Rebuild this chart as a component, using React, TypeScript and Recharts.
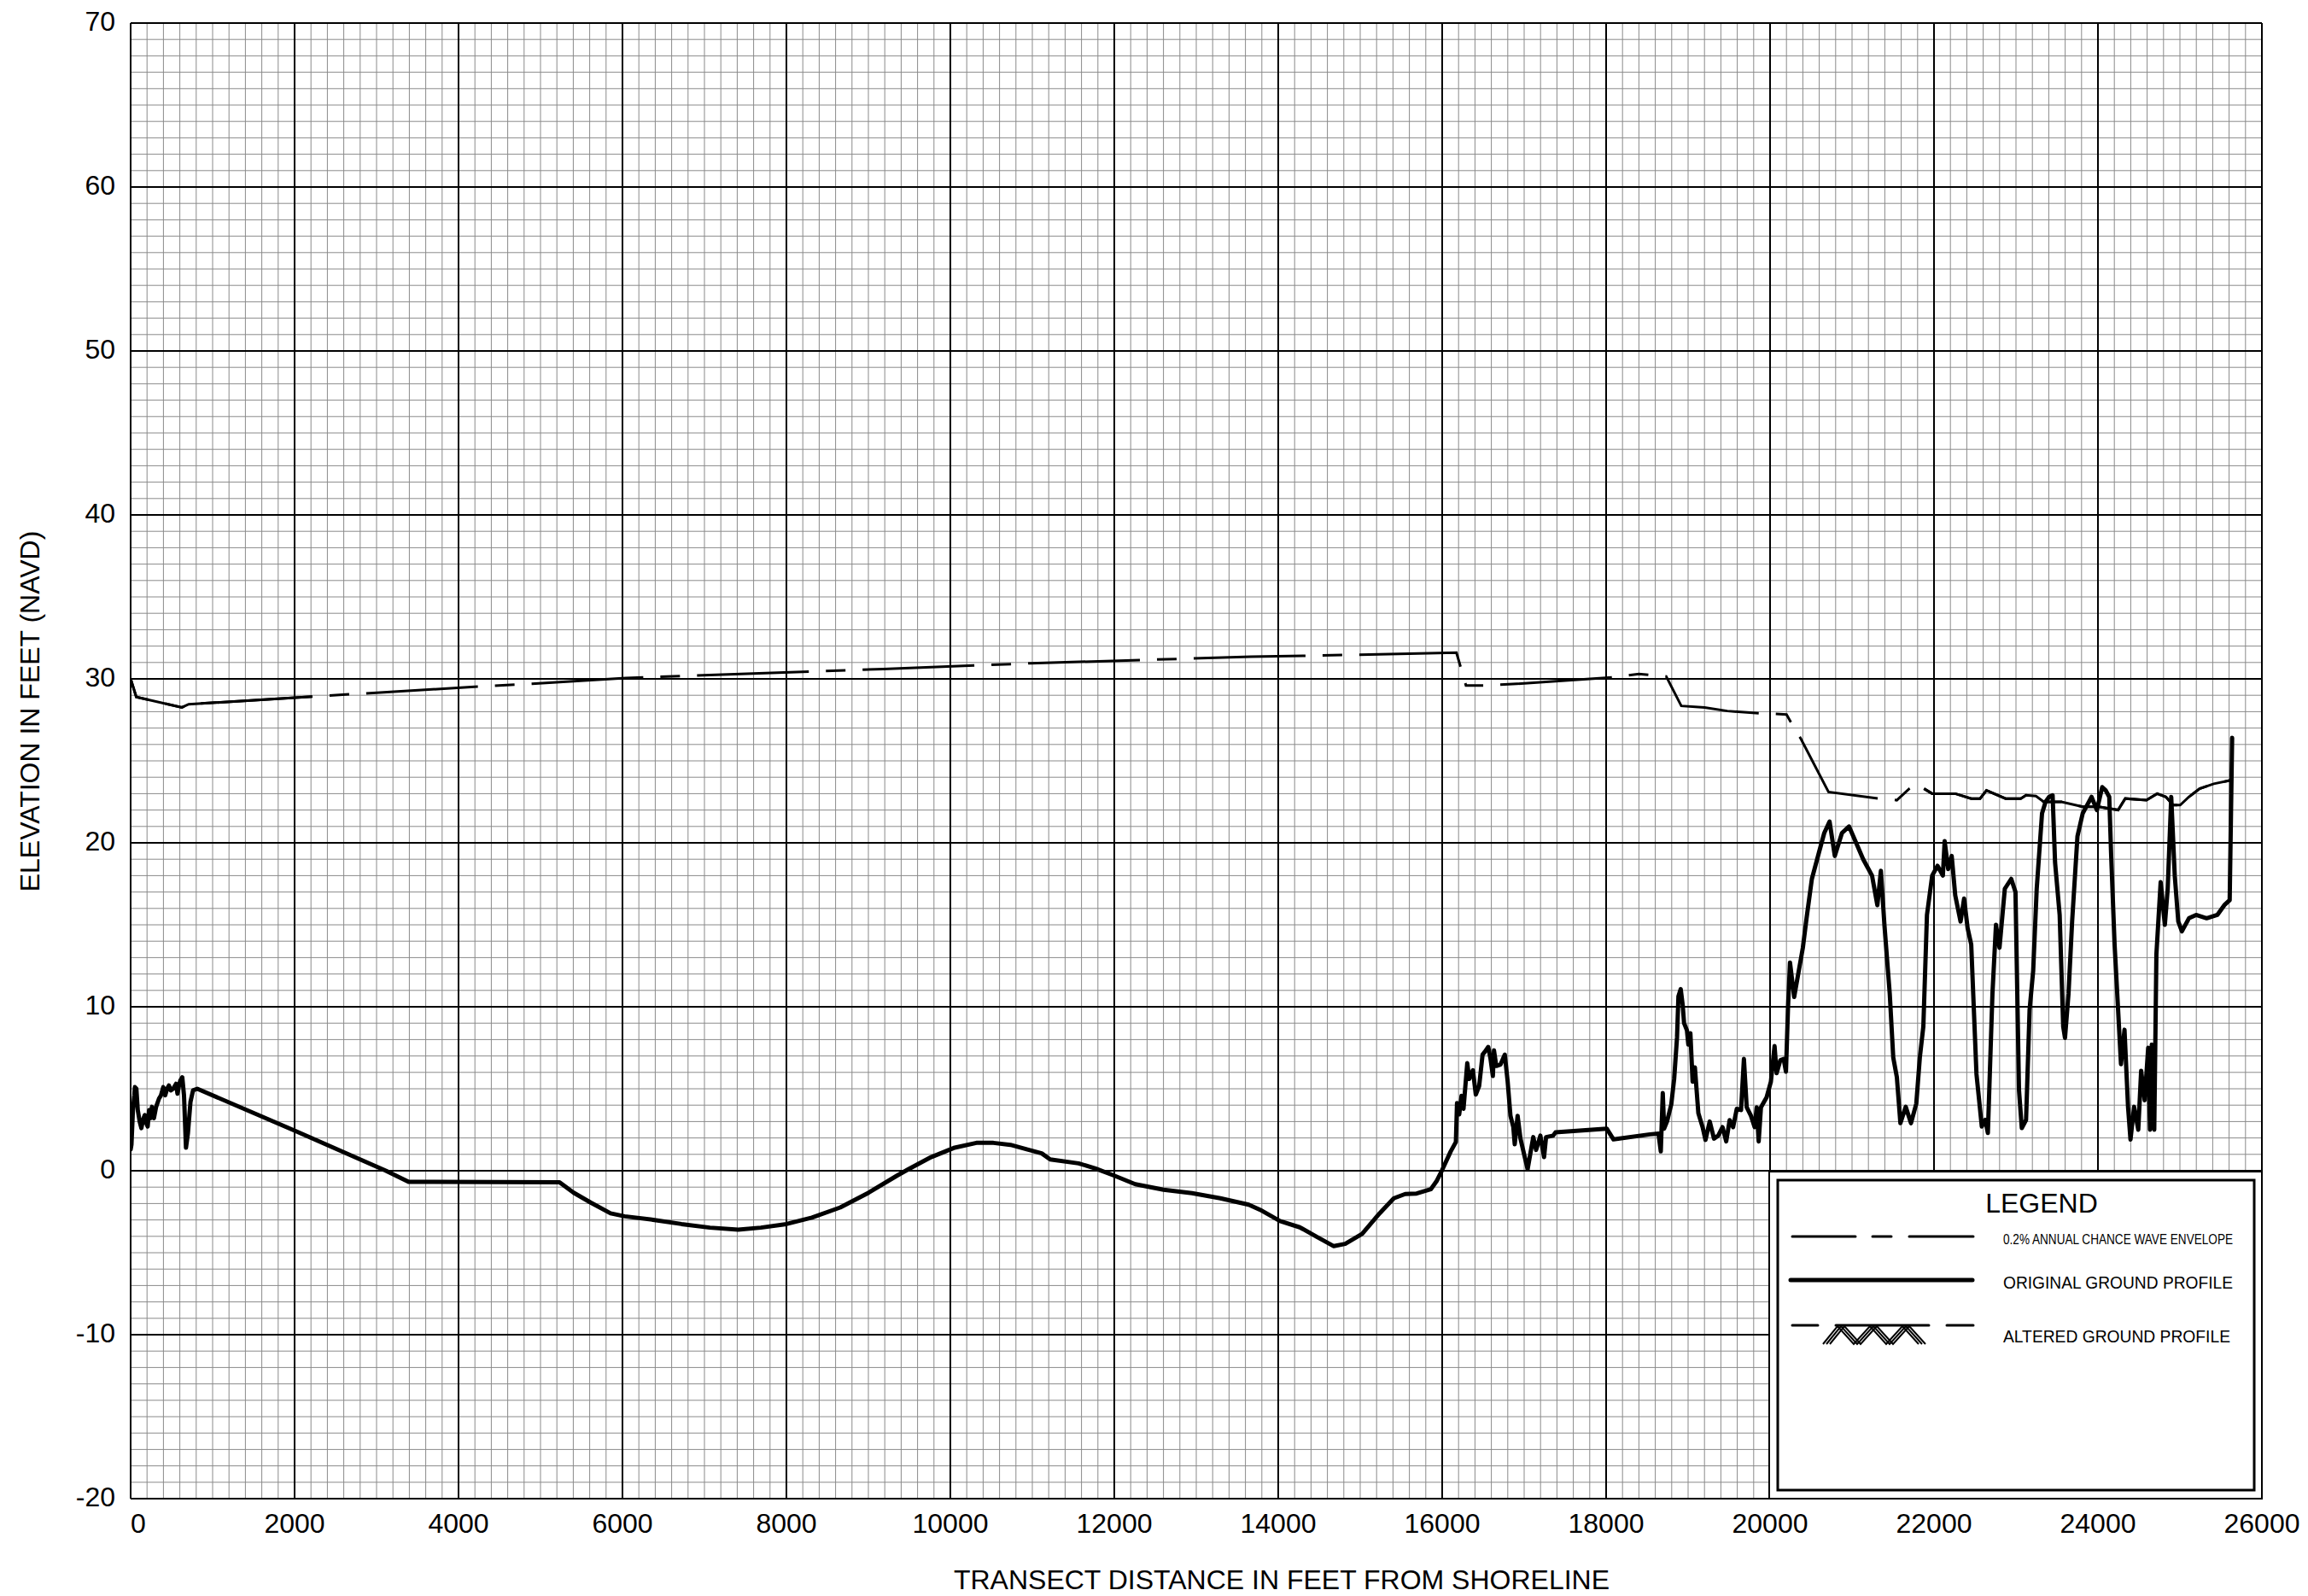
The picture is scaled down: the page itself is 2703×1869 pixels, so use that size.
import React from 'react';
import { LineChart, Line, XAxis, YAxis, CartesianGrid, ReferenceLine } from 'recharts';

const FONT = '"Liberation Sans", Arial, Helvetica, sans-serif';

const distanceTicks = [0, 2000, 4000, 6000, 8000, 10000, 12000, 14000, 16000, 18000, 20000, 22000, 24000, 26000];
const elevationTicks = [-20, -10, 0, 10, 20, 30, 40, 50, 60, 70];
// graph paper: light lines every 200 ft / 1 ft
const minorDistance = Array.from({ length: 131 }, (_, i) => i * 200);
const minorElevation = Array.from({ length: 91 }, (_, i) => i - 20);

// 0.2% annual chance wave envelope [distance, elevation]
const waveEnvelope: [number, number][] = [
  [0, 30.0], [69, 28.9], [625, 28.26], [708, 28.45], [2212, 28.92], [4236, 29.53], [4896, 29.7],
  [6040, 30.05], [9180, 30.6], [10979, 30.95], [13670, 31.35], [15594, 31.53], [16174, 31.6],
  [16290, 29.6], [16528, 29.6], [16910, 29.7], [18090, 30.1], [18400, 30.3], [18733, 30.15],
  [18917, 28.35], [19201, 28.26], [19479, 28.04], [19878, 27.9], [20201, 27.83], [20260, 27.3],
  [20375, 26.35], [20713, 23.1], [21317, 22.7], [21546, 22.6], [21698, 23.3], [21780, 23.6],
  [21879, 23.3], [21978, 23.0], [22259, 23.0], [22454, 22.7], [22562, 22.7], [22640, 23.2],
  [22873, 22.7], [23058, 22.7], [23123, 22.9], [23244, 22.85], [23339, 22.5], [23555, 22.5],
  [23814, 22.2], [24009, 22.2], [24246, 22.0], [24333, 22.7], [24592, 22.6], [24722, 23.0],
  [24830, 22.8], [24916, 22.3], [25003, 22.3], [25110, 22.8], [25240, 23.3], [25413, 23.6],
  [25607, 23.8],
];

// original ground profile, by reach
const groundNearshore: [number, number][] = [
  [0, 1.3], [10, 1.6], [28, 3.7], [45, 4.6], [52, 5.1], [70, 5.0], [87, 3.7], [110, 3.0],
  [131, 2.6], [150, 3.1], [173, 3.4], [190, 2.9], [208, 2.7], [225, 3.7], [240, 3.2], [260, 3.9],
  [284, 3.2], [311, 3.9], [346, 4.4], [370, 4.6], [398, 5.1], [422, 4.6], [445, 5.0], [467, 5.2],
  [490, 4.9], [519, 5.0], [554, 5.3], [571, 4.7], [590, 5.2], [606, 5.5], [630, 5.7], [651, 4.6],
  [675, 1.4], [699, 2.3], [730, 4.2], [761, 4.9], [813, 5.0], [2000, 2.45], [3114, 0.0],
  [3391, -0.68], [5232, -0.7],
];

const groundBay: [number, number][] = [
  [5405, -1.34], [5612, -1.94], [5855, -2.6], [6028, -2.78], [6374, -2.99], [6720, -3.25],
  [7066, -3.47], [7412, -3.59], [7688, -3.47], [8000, -3.25], [8311, -2.86], [8657, -2.24],
  [9003, -1.34], [9349, -0.3], [9488, 0.09], [9765, 0.83], [10041, 1.39], [10318, 1.7],
  [10526, 1.7], [10733, 1.58], [10941, 1.3], [11114, 1.06], [11218, 0.69], [11564, 0.45],
  [11771, 0.14], [12000, -0.3], [12256, -0.82], [12602, -1.16], [12948, -1.37], [13294, -1.68],
  [13640, -2.07], [13778, -2.38], [14021, -3.07], [14263, -3.45], [14470, -4.03], [14678, -4.6],
  [14817, -4.46], [15024, -3.85], [15236, -2.6], [15410, -1.68], [15549, -1.42], [15688, -1.39],
  [15861, -1.13], [15931, -0.64], [16000, 0.05],
];

const groundUpland: [number, number][] = [
  [16104, 1.18], [16167, 1.75], [16181, 4.13], [16208, 3.44], [16236, 4.57], [16260, 3.78],
  [16306, 6.56], [16330, 5.6], [16375, 6.13], [16410, 4.65], [16451, 5.17], [16493, 7.08],
  [16521, 7.26], [16562, 7.55], [16590, 6.82], [16618, 5.78], [16632, 7.34], [16660, 6.39],
  [16712, 6.48], [16764, 7.08], [16799, 5.43], [16833, 3.35], [16868, 2.66], [16885, 1.61],
  [16920, 3.35], [16955, 1.96], [17042, 0.09], [17111, 2.05], [17146, 1.27], [17198, 2.14],
  [17243, 0.83], [17267, 2.05], [17354, 2.14], [17382, 2.34], [18007, 2.57], [18090, 1.91],
  [18535, 2.22], [18639, 2.26], [18667, 1.18], [18691, 4.74], [18708, 2.57], [18743, 3.0],
  [18795, 4.05], [18830, 5.6], [18865, 8.13], [18882, 10.64], [18910, 11.08], [18934, 10.12],
  [18951, 9.0], [18986, 8.56], [19003, 7.69], [19028, 8.39], [19055, 5.43], [19083, 6.3],
  [19125, 3.52], [19177, 2.66], [19212, 1.88], [19264, 3.0], [19316, 1.96], [19368, 2.14],
  [19420, 2.66], [19465, 1.79], [19507, 3.09], [19549, 2.66], [19594, 3.78], [19646, 3.7],
  [19681, 6.82], [19715, 3.87], [19767, 3.35], [19812, 2.66], [19837, 3.87], [19861, 1.79],
  [19889, 3.87], [19958, 4.48], [20010, 5.43], [20055, 7.6], [20080, 5.95], [20125, 6.74],
  [20166, 6.82], [20194, 6.04], [20219, 9.95], [20243, 12.7],
];

const groundDunes: [number, number][] = [
  [20294, 10.6], [20400, 13.6], [20445, 15.4], [20510, 17.8], [20596, 19.4], [20661, 20.6],
  [20726, 21.3], [20790, 19.2], [20877, 20.6], [20963, 21.0], [21050, 20.0], [21136, 19.0],
  [21244, 18.0], [21309, 16.2], [21352, 18.3], [21395, 15.0], [21460, 10.8], [21503, 6.9],
  [21547, 5.7], [21590, 2.9], [21655, 3.9], [21719, 2.9], [21784, 4.1], [21827, 6.9],
  [21870, 8.8], [21914, 15.6], [21978, 18.0], [22043, 18.6], [22108, 18.0], [22130, 20.1],
  [22173, 18.4], [22216, 19.2], [22259, 16.8], [22324, 15.2], [22367, 16.6], [22410, 14.8],
  [22454, 13.8], [22518, 5.9], [22583, 2.7], [22626, 3.1], [22657, 2.3], [22713, 10.8],
  [22756, 15.0], [22799, 13.6], [22864, 17.2], [22942, 17.8], [22994, 17.0], [23037, 4.9],
  [23071, 2.6], [23123, 3.1], [23166, 9.8], [23210, 12.2], [23253, 17.2], [23318, 21.8],
  [23361, 22.5], [23404, 22.8], [23447, 22.9], [23477, 18.8], [23533, 15.6], [23576, 8.8],
  [23598, 8.1], [23641, 10.8], [23685, 15.2], [23750, 20.4], [23814, 21.8], [23879, 22.4],
  [23922, 22.8], [23987, 22.0], [24052, 23.4], [24095, 23.2], [24138, 22.8], [24160, 19.4],
  [24203, 13.8], [24246, 9.8], [24281, 6.5], [24324, 8.6], [24367, 3.9], [24397, 1.9],
  [24441, 3.9], [24492, 2.5], [24527, 6.1], [24570, 4.3], [24613, 7.5], [24635, 2.5],
  [24657, 7.7], [24687, 2.5], [24713, 13.2], [24765, 17.6], [24816, 15.0], [24851, 17.2],
  [24894, 22.8], [24937, 18.0], [24980, 15.2], [25024, 14.6], [25110, 15.4], [25197, 15.6],
  [25326, 15.4], [25456, 15.6], [25542, 16.2], [25607, 16.5], [25637, 26.4],
];

const toPoints = (rows: [number, number][]) => rows.map(([x, y]) => ({ x, y }));

const envelopeData = toPoints(waveEnvelope);
// the first run and the short-segment tail of the envelope are drawn unbroken in the original
const envelopeLead = envelopeData.slice(0, 5);
const envelopeTail = envelopeData.slice(31);
const groundData = toPoints([...groundNearshore, ...groundBay, ...groundUpland, ...groundDunes]);

const DistanceTick = (props: any) => {
  const { x, y, payload } = props;
  return (
    <text
      x={x}
      y={y}
      dy={23}
      textAnchor={payload.value === 0 ? 'start' : 'middle'}
      fontFamily={FONT}
      fontSize={32}
      fill="#000"
    >
      {payload.value}
    </text>
  );
};

const ElevationTick = (props: any) => {
  const { x, y, payload } = props;
  return (
    <text x={x} y={y} dy={9} textAnchor="end" fontFamily={FONT} fontSize={32} fill="#000">
      {payload.value}
    </text>
  );
};

const hatch = [
  [2135, 1574], [2152, 1553], [2171, 1574], [2190, 1553], [2209, 1574], [2228, 1553], [2247, 1574],
];

function Overlay() {
  return (
    <svg
      width={2703}
      height={1869}
      style={{ position: 'absolute', left: 0, top: 0, pointerEvents: 'none' }}
    >
      <text x={1501} y={1861} textAnchor="middle" fontFamily={FONT} fontSize={32} fill="#000">
        TRANSECT DISTANCE IN FEET FROM SHORELINE
      </text>
      <text
        x={35}
        y={833}
        transform="rotate(-90 35 833)"
        textAnchor="middle"
        dominantBaseline="central"
        fontFamily={FONT}
        fontSize={32}
        fill="#000"
      >
        ELEVATION IN FEET (NAVD)
      </text>

      {/* legend */}
      <rect x={2072} y={1372} width={577} height={383} fill="#fff" stroke="#000" strokeWidth={2} />
      <rect x={2082} y={1382} width={558} height={363} fill="#fff" stroke="#000" strokeWidth={3} />
      <text x={2391} y={1420} textAnchor="middle" fontFamily={FONT} fontSize={32} fill="#000">
        LEGEND
      </text>

      <g stroke="#000" strokeWidth={3} strokeLinecap="round">
        <line x1={2099} y1={1448} x2={2173} y2={1448} />
        <line x1={2193} y1={1448} x2={2215} y2={1448} />
        <line x1={2236} y1={1448} x2={2311} y2={1448} />
      </g>
      <text x={2346} y={1457} fontFamily={FONT} fontSize={17} textLength={269} lengthAdjust="spacingAndGlyphs" fill="#000">
        0.2% ANNUAL CHANCE WAVE ENVELOPE
      </text>

      <line x1={2097} y1={1499} x2={2310} y2={1499} stroke="#000" strokeWidth={5} strokeLinecap="round" />
      <text x={2346} y={1509} fontFamily={FONT} fontSize={19.5} textLength={269} lengthAdjust="spacingAndGlyphs" fill="#000">
        ORIGINAL GROUND PROFILE
      </text>

      <g stroke="#000" strokeWidth={3} strokeLinecap="round">
        <line x1={2099} y1={1552} x2={2129} y2={1552} />
        <line x1={2150} y1={1552} x2={2259} y2={1552} />
        <line x1={2280} y1={1552} x2={2311} y2={1552} />
      </g>
      <g fill="none" stroke="#000" strokeWidth={2}>
        {[0, 4, 8].map((dx) => (
          <polyline key={dx} points={hatch.map(([px, py]) => `${px + dx},${py}`).join(' ')} />
        ))}
      </g>
      <text x={2346} y={1572} fontFamily={FONT} fontSize={19.5} textLength={266} lengthAdjust="spacingAndGlyphs" fill="#000">
        ALTERED GROUND PROFILE
      </text>
    </svg>
  );
}

export default function App() {
  return (
    <div style={{ position: 'absolute', left: 0, top: 0, width: 2703, height: 1869, background: '#fff' }}>
      <LineChart width={2703} height={1869} margin={{ top: 27, right: 54, bottom: 0, left: 0 }}>
        <CartesianGrid
          stroke="#8a8a8a"
          strokeWidth={1}
          verticalValues={minorDistance}
          horizontalValues={minorElevation}
        />
        <XAxis
          type="number"
          dataKey="x"
          domain={[0, 26000]}
          ticks={distanceTicks}
          interval={0}
          allowDataOverflow
          height={114}
          tickSize={0}
          tickMargin={17}
          tickLine={false}
          axisLine={false}
          tick={(p: any) => <DistanceTick {...p} />}
        />
        <YAxis
          type="number"
          domain={[-20, 70]}
          ticks={elevationTicks}
          interval={0}
          allowDataOverflow
          width={153}
          tickSize={0}
          tickMargin={18}
          tickLine={false}
          axisLine={false}
          tick={(p: any) => <ElevationTick {...p} />}
        />
        {distanceTicks.map((v) => (
          <ReferenceLine key={`gx${v}`} x={v} stroke="#000" strokeWidth={2} />
        ))}
        {elevationTicks.map((v) => (
          <ReferenceLine key={`gy${v}`} y={v} stroke="#000" strokeWidth={2} />
        ))}
        <Line
          data={envelopeData}
          dataKey="y"
          type="linear"
          stroke="#000"
          strokeWidth={3}
          strokeDasharray="131 20 23 20"
          strokeDashoffset={94}
          dot={false}
          activeDot={false}
          isAnimationActive={false}
        />
        <Line
          data={envelopeLead}
          dataKey="y"
          type="linear"
          stroke="#000"
          strokeWidth={3}
          dot={false}
          activeDot={false}
          isAnimationActive={false}
        />
        <Line
          data={envelopeTail}
          dataKey="y"
          type="linear"
          stroke="#000"
          strokeWidth={3}
          dot={false}
          activeDot={false}
          isAnimationActive={false}
        />
        <Line
          data={groundData}
          dataKey="y"
          type="linear"
          stroke="#000"
          strokeWidth={5}
          strokeLinejoin="round"
          strokeLinecap="round"
          dot={false}
          activeDot={false}
          isAnimationActive={false}
        />
      </LineChart>
      <Overlay />
    </div>
  );
}
